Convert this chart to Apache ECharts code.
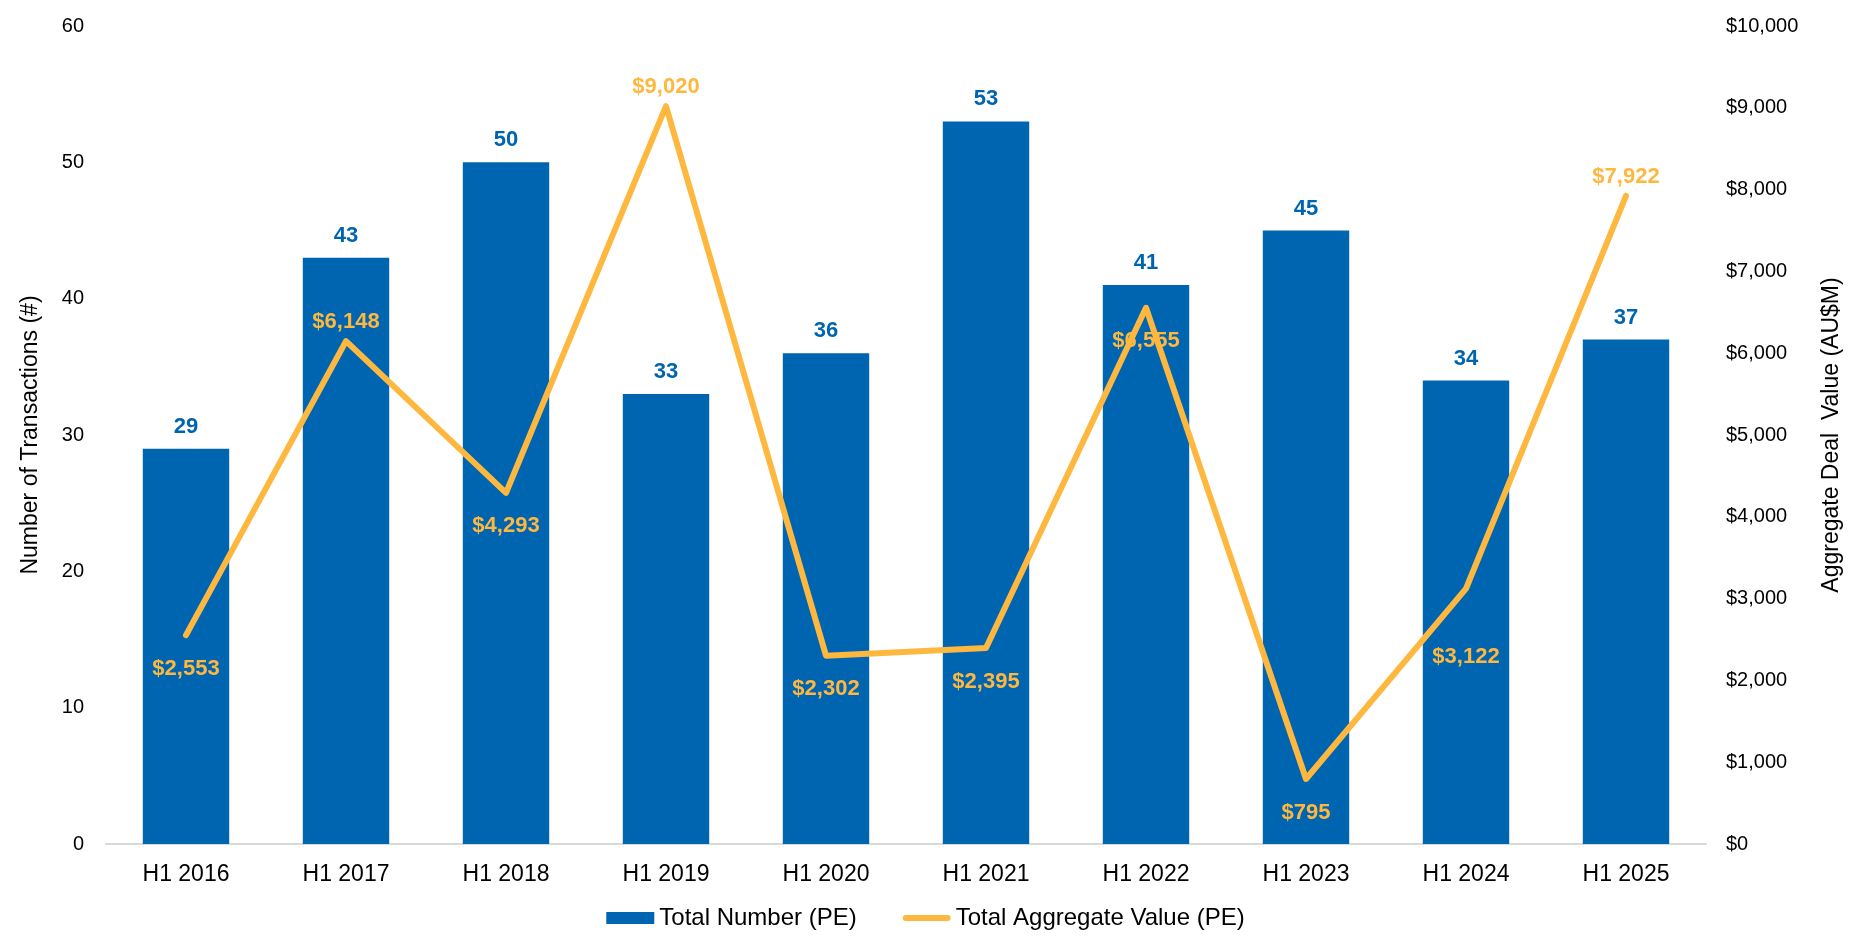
<!DOCTYPE html>
<html>
<head>
<meta charset="utf-8">
<script src="https://cdn.jsdelivr.net/npm/echarts@6/dist/echarts.min.js"></script>
<style>html,body{margin:0;padding:0;background:#fff}#c{width:1851px;height:947px}</style>
</head>
<body>
<div id="c"></div>
<script>
const categories = ['H1 2016','H1 2017','H1 2018','H1 2019','H1 2020','H1 2021','H1 2022','H1 2023','H1 2024','H1 2025'];
const totalNumber = [29, 43, 50, 33, 36, 53, 41, 45, 34, 37];
const aggregateValue = [2553, 6148, 4293, 9020, 2302, 2395, 6555, 795, 3122, 7922];
const leftTicks = {min: 0, max: 60, interval: 10};
const rightTicks = {min: 0, max: 10000, interval: 1000};

const BLUE = '#0065B1';
const GOLD = '#FFB83F';
const FONT = 'Liberation Sans, Arial, sans-serif';
const labelAboveIdx = new Set([1, 3, 9]);
const labelFarBelowIdx = new Set([8]);

const fmt$ = v => '$' + v.toLocaleString('en-US');

const chart = echarts.init(document.getElementById('c'));
chart.setOption({
  animation: false,
  textStyle: {fontFamily: FONT},
  grid: {left: 106, right: 127, top: 26, bottom: 103, containLabel: false},
  legend: {
    bottom: 12, left: 'center',
    itemWidth: 48, itemHeight: 12, itemGap: 46,
    textStyle: {fontSize: 24, color: '#000', fontFamily: FONT},
    data: [
      {name: 'Total Number (PE)', icon: 'rect'},
      {name: 'Total Aggregate Value (PE)', icon: 'path://M3,0 L45,0 A3,3 0 0 1 45,6 L3,6 A3,3 0 0 1 3,0 Z'}
    ]
  },
  xAxis: {
    type: 'category', data: categories,
    axisLine: {lineStyle: {color: '#D9D9D9', width: 2}},
    axisTick: {show: false},
    axisLabel: {color: '#000', fontSize: 23, margin: 19, fontFamily: FONT}
  },
  yAxis: [
    {
      type: 'value', min: leftTicks.min, max: leftTicks.max, interval: leftTicks.interval,
      name: 'Number of Transactions (#)', nameLocation: 'middle', nameGap: 64, nameRotate: 90,
      nameTextStyle: {fontSize: 23, color: '#000', fontFamily: FONT},
      splitLine: {show: false}, axisLine: {show: false}, axisTick: {show: false},
      axisLabel: {color: '#000', fontSize: 20, margin: 22, fontFamily: FONT}
    },
    {
      type: 'value', min: rightTicks.min, max: rightTicks.max, interval: rightTicks.interval,
      name: 'Aggregate Deal  Value (AU$M)', nameLocation: 'middle', nameGap: 114, nameRotate: 90,
      nameTextStyle: {fontSize: 23, color: '#000', fontFamily: FONT},
      splitLine: {show: false}, axisLine: {show: false}, axisTick: {show: false},
      axisLabel: {color: '#000', fontSize: 20, margin: 20, fontFamily: FONT, formatter: fmt$}
    }
  ],
  series: [
    {
      name: 'Total Number (PE)', type: 'bar', yAxisIndex: 0,
      data: totalNumber, barWidth: '54%',
      itemStyle: {color: BLUE},
      label: {show: true, position: 'top', distance: 11, color: BLUE, fontSize: 22, fontWeight: 'bold', fontFamily: FONT}
    },
    {
      name: 'Total Aggregate Value (PE)', type: 'line', yAxisIndex: 1,
      data: aggregateValue.map((v, i) => ({
        value: v,
        label: labelAboveIdx.has(i) ? {position: 'top', distance: 8}
             : labelFarBelowIdx.has(i) ? {position: 'bottom', distance: 57}
             : {position: 'bottom', distance: 22}
      })),
      symbol: 'circle', symbolSize: 1, showSymbol: true,
      lineStyle: {color: GOLD, width: 6, cap: 'round', join: 'round'},
      itemStyle: {color: GOLD},
      label: {show: true, color: GOLD, fontSize: 22, fontWeight: 'bold', fontFamily: FONT, formatter: p => fmt$(p.value)},
      labelLayout: {hideOverlap: false},
      z: 5
    }
  ]
});
</script>
</body>
</html>
